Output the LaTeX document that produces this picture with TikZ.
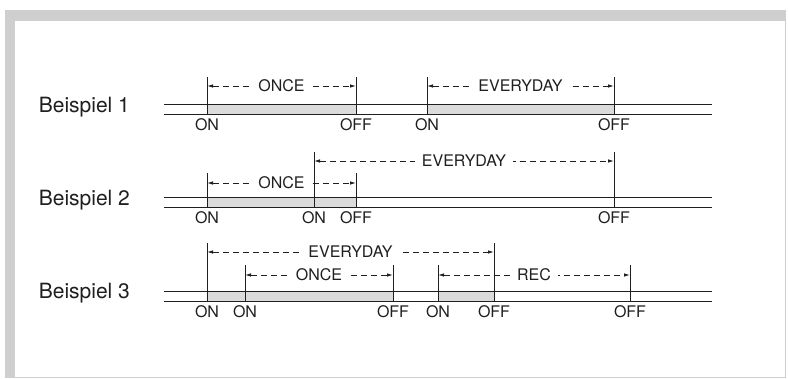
\documentclass[tikz,border=0pt]{standalone}
\usepackage{fontspec}
\setmainfont{TeX Gyre Heros}
\usetikzlibrary{arrows.meta}

\begin{document}
\begin{tikzpicture}[x=1pt, y=-1pt, line width=1pt, color=black!88,
  track/.style = {draw},
  tick/.style = {draw},
  span/.style = {draw, line width=0.9pt, dash pattern=on 6pt off 4pt, {Latex[length=6pt,width=3.5pt]}-{Latex[length=6pt,width=3.5pt]}},
  lbl/.style = {fill=white, inner xsep=7pt, inner ysep=1pt, font=\fontsize{16}{18}\selectfont, text height=11.5pt, text depth=0pt},
  sw/.style = {anchor=base, font=\fontsize{16}{18}\selectfont},
  head/.style = {anchor=base west, font=\fontsize{21}{24}\selectfont},
  busy/.style = {fill=gray!28}]
\useasboundingbox (0,0) rectangle (788,378);
% frame
\fill[gray!38] (5,10) rectangle (786,378);
\fill[white] (15,21) rectangle (785,377);

% Beispiel 1
\node[head] (b1) at (35,112) {Beispiel 1};
\fill[busy] (207,104) rectangle (356,114);
\fill[busy] (427,104) rectangle (614,114);
\draw[track] (164,104) -- (712,104);
\draw[track] (164,114) -- (712,114);
\coordinate (t1a) at (207,77); \coordinate (u1a) at (207,114);
\coordinate (t1b) at (356,77); \coordinate (u1b) at (356,114);
\coordinate (t1c) at (427,77); \coordinate (u1c) at (427,114);
\coordinate (t1d) at (614,77); \coordinate (u1d) at (614,114);
\draw[tick] (t1a) -- (u1a);
\draw[tick] (t1b) -- (u1b);
\draw[tick] (t1c) -- (u1c);
\draw[tick] (t1d) -- (u1d);
\coordinate (s1a) at (207,86); \coordinate (s1b) at (356,86);
\coordinate (s1c) at (427,86); \coordinate (s1d) at (614,86);
\draw[span] (s1a) -- node[lbl] (once1) {ONCE} (s1b);
\draw[span] (s1c) -- node[lbl] (every1) {EVERYDAY} (s1d);
\node[sw] (on1a) at (207,130) {ON};
\node[sw] (off1b) at (356,130) {OFF};
\node[sw] (on1c) at (427,130) {ON};
\node[sw] (off1d) at (614,130) {OFF};

% Beispiel 2
\node[head] (b2) at (35,205) {Beispiel 2};
\fill[busy] (207,197) rectangle (356,207);
\draw[track] (164,197) -- (712,197);
\draw[track] (164,207) -- (712,207);
\coordinate (t2a) at (207,173); \coordinate (u2a) at (207,207);
\coordinate (t2b) at (314,152); \coordinate (u2b) at (314,207);
\coordinate (t2c) at (356,173); \coordinate (u2c) at (356,207);
\coordinate (t2d) at (614,152); \coordinate (u2d) at (614,207);
\draw[tick] (t2a) -- (u2a);
\draw[tick] (t2b) -- (u2b);
\draw[tick] (t2c) -- (u2c);
\draw[tick] (t2d) -- (u2d);
\coordinate (s2a) at (207,183); \coordinate (s2c) at (356,183);
\coordinate (s2b) at (314,161); \coordinate (s2d) at (614,161);
\draw[span] (s2a) -- node[lbl] (once2) {ONCE} (s2c);
\draw[span] (s2b) -- node[lbl] (every2) {EVERYDAY} (s2d);
\node[sw] (on2a) at (207,223) {ON};
\node[sw] (on2b) at (314,223) {ON};
\node[sw] (off2c) at (356,223) {OFF};
\node[sw] (off2d) at (614,223) {OFF};

% Beispiel 3
\node[head] (b3) at (35,298) {Beispiel 3};
\fill[busy] (207,291) rectangle (393,301);
\fill[busy] (438,291) rectangle (494,301);
\draw[track] (164,291) -- (712,291);
\draw[track] (164,301) -- (712,301);
\coordinate (t3a) at (207,243); \coordinate (u3a) at (207,301);
\coordinate (t3b) at (245,265); \coordinate (u3b) at (245,301);
\coordinate (t3c) at (393,265); \coordinate (u3c) at (393,301);
\coordinate (t3d) at (438,265); \coordinate (u3d) at (438,301);
\coordinate (t3e) at (494,243); \coordinate (u3e) at (494,301);
\coordinate (t3f) at (630,265); \coordinate (u3f) at (630,301);
\draw[tick] (t3a) -- (u3a);
\draw[tick] (t3b) -- (u3b);
\draw[tick] (t3c) -- (u3c);
\draw[tick] (t3d) -- (u3d);
\draw[tick] (t3e) -- (u3e);
\draw[tick] (t3f) -- (u3f);
\coordinate (s3a) at (207,252); \coordinate (s3e) at (494,252);
\coordinate (s3b) at (245,275); \coordinate (s3c) at (393,275);
\coordinate (s3d) at (438,275); \coordinate (s3f) at (630,275);
\draw[span] (s3a) -- node[lbl] (every3) {EVERYDAY} (s3e);
\draw[span] (s3b) -- node[lbl] (once3) {ONCE} (s3c);
\draw[span] (s3d) -- node[lbl] (rec3) {REC} (s3f);
\node[sw] (on3a) at (207,317) {ON};
\node[sw] (on3b) at (245,317) {ON};
\node[sw] (off3c) at (393,317) {OFF};
\node[sw] (on3d) at (438,317) {ON};
\node[sw] (off3e) at (494,317) {OFF};
\node[sw] (off3f) at (630,317) {OFF};
\end{tikzpicture}
\end{document}
